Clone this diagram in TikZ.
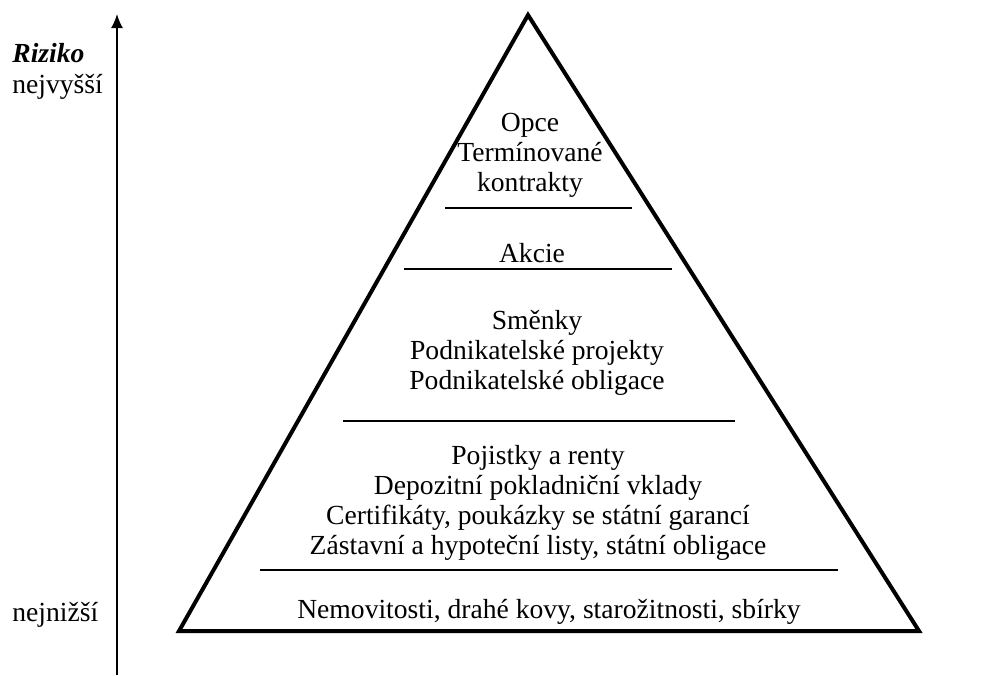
\documentclass[tikz,border=0pt]{standalone}
\usepackage{fontspec}
\setmainfont{Liberation Serif}
\usetikzlibrary{arrows.meta,positioning}

\begin{document}
\begin{tikzpicture}[x=0.5pt,y=-0.5pt,>={Latex[length=7pt,width=6pt]},
    level text/.style={align=center,font=\fontsize{13.8}{15}\selectfont,inner sep=0pt},
    side text/.style={anchor=base west,font=\fontsize{13.8}{15}\selectfont,inner sep=0pt},
    divider/.style={line width=0.8pt}]

  \useasboundingbox (0,0) rectangle (989,675);

  % pyramid
  \coordinate (apex) at (528,15);
  \coordinate (baseL) at (179,631);
  \coordinate (baseR) at (919,631);
  \draw[line width=2pt,line join=miter] (apex) -- (baseL) -- (baseR) -- cycle;

  % risk axis
  \coordinate (axisbot) at (117,675);
  \coordinate (axistop) at (117,14);
  \draw[->,line width=0.9pt] (axisbot) -- (axistop);

  \node[side text,font=\fontsize{13.8}{15}\selectfont\bfseries\itshape] (riziko) at (12,62) {Riziko};
  \node[side text] (high) at (12,93) {nejvyšší};
  \node[side text] (low) at (12,621) {nejnižší};

  % levels
  \foreach \y/\xl/\xr [count=\i] in {208/445/632, 269/404/672, 421/343/735, 570/260/838} {
    \coordinate (d\i l) at (\xl,\y);
    \coordinate (d\i r) at (\xr,\y);
    \draw[divider] (d\i l) -- (d\i r);
  }

  \node[level text] (opce) at (530,155) {Opce\\Termínované\\kontrakty};
  \node[level text] (akcie) at (532,253) {Akcie};
  \node[level text] (smenky) at (537,353) {Směnky\\Podnikatelské projekty\\Podnikatelské obligace};
  \node[level text] (pojistky) at (538,503) {Pojistky a renty\\Depozitní pokladniční vklady\\Certifikáty, poukázky se státní garancí\\Zástavní a hypoteční listy, státní obligace};
  \node[level text] (nemovitosti) at (549,612) {Nemovitosti, drahé kovy, starožitnosti, sbírky};

\end{tikzpicture}
\end{document}
